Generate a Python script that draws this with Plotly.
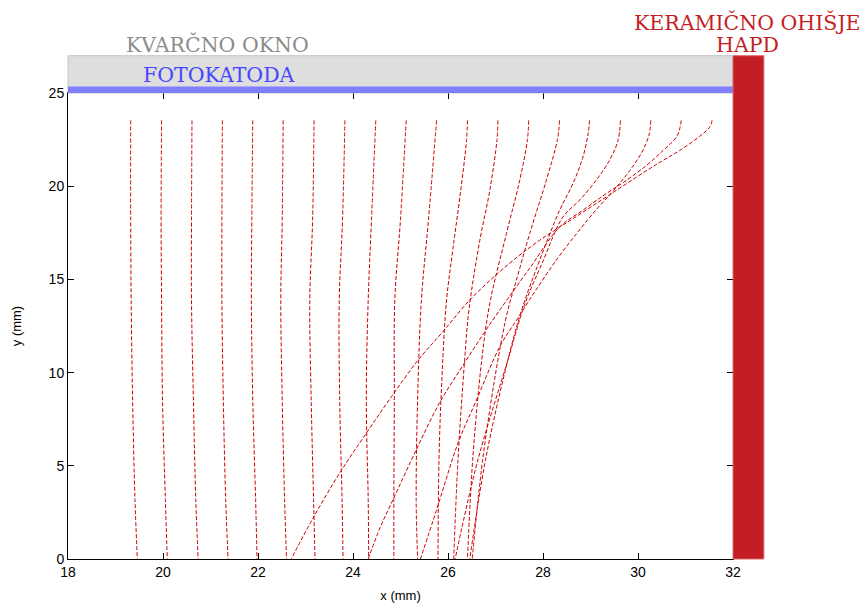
import plotly.graph_objects as go

# ---------------- data (mm) ----------------
# common y levels for the nearly vertical trajectories 1-11
y_straight = [23.53, 18.23, 13.89, 8.53, 3.18, 0.0]

x_e01 = [19.32, 19.32, 19.33, 19.36, 19.41, 19.46]
x_e02 = [19.97, 19.96, 19.97, 19.99, 20.05, 20.09]
x_e03 = [20.61, 20.60, 20.60, 20.64, 20.69, 20.74]
x_e04 = [21.25, 21.24, 21.24, 21.27, 21.32, 21.37]
x_e05 = [21.89, 21.87, 21.86, 21.89, 21.95, 21.98]
x_e06 = [22.53, 22.51, 22.48, 22.51, 22.56, 22.60]
x_e07 = [23.18, 23.15, 23.09, 23.12, 23.17, 23.20]
x_e08 = [23.83, 23.78, 23.71, 23.72, 23.77, 23.79]
x_e09 = [24.48, 24.39, 24.32, 24.28, 24.32, 24.33]
x_e10 = [25.12, 25.00, 24.88, 24.87, 24.86, 24.86]
x_e11 = [25.76, 25.59, 25.44, 25.36, 25.33, 25.36]

x_e12 = [26.41, 26.39, 26.25, 26.10, 25.97, 25.87, 25.81, 25.79]
y_e12 = [23.53, 22.46, 19.42, 16.57, 13.89, 9.60, 5.32, 0.0]

x_e13 = [27.05, 27.03, 26.88, 26.67, 26.44, 26.35, 26.21, 26.12]
y_e13 = [23.53, 22.46, 19.78, 17.10, 13.35, 10.67, 5.32, 0.0]

x_e14 = [27.70, 27.67, 27.51, 27.23, 26.88, 26.71, 26.52, 26.41]
y_e14 = [23.53, 22.46, 20.32, 17.46, 13.71, 10.67, 5.32, 0.0]

x_e15 = [28.35, 28.30, 28.07, 27.72, 27.44, 27.26, 27.05, 26.73, 26.51]
y_e15 = [23.53, 22.46, 20.32, 17.46, 14.96, 13.35, 10.67, 5.32, 0.0]

x_e16 = [28.98, 28.95, 28.84, 28.63, 28.35, 27.93, 27.55, 27.26, 26.79, 26.46]
y_e16 = [23.53, 22.83, 21.56, 20.14, 18.71, 16.03, 13.35, 10.67, 5.32, 0.0]

x_e17 = [29.63, 29.58, 29.40, 29.12, 28.77, 28.42, 27.99, 27.61, 27.26, 26.63, 26.15]
y_e17 = [23.53, 22.46, 21.39, 20.32, 19.25, 18.35, 15.92, 13.62, 10.67, 5.32, 0.0]

x_e18 = [30.27, 30.23, 30.08, 29.83, 29.49, 29.11, 28.73, 28.31, 27.89, 27.47,
         27.09, 26.60, 26.21, 25.76, 25.42]
y_e18 = [23.53, 22.73, 21.82, 20.85, 19.78, 18.71, 17.53, 16.14, 14.58, 12.92,
         11.39, 8.53, 6.21, 2.64, 0.0]

x_e19 = [30.91, 30.88, 30.81, 30.53, 30.18, 29.76, 29.33, 28.84, 28.35, 27.72,
         27.09, 26.77, 26.28, 25.82, 25.33, 24.84, 24.57, 24.32]
y_e19 = [23.53, 23.10, 22.64, 21.92, 21.12, 20.32, 19.60, 18.71, 17.81, 15.60,
         13.36, 12.17, 10.25, 8.37, 5.85, 3.17, 1.68, 0.0]

x_e20 = [31.56, 31.51, 31.30, 30.88, 30.46, 29.97, 29.33, 28.63, 27.93, 27.30,
         26.49, 25.89, 25.37, 24.81, 24.28, 23.72, 23.16, 22.70]
y_e20 = [23.53, 23.17, 22.68, 21.92, 21.28, 20.49, 19.42, 18.26, 17.10, 15.87,
         13.98, 12.19, 10.67, 8.71, 6.75, 4.61, 2.20, 0.0]

x_ticks = [18, 20, 22, 24, 26, 28, 30, 32]
y_ticks = [0, 5, 10, 15, 20, 25]

# geometry of the drawn detector parts (mm)
x_min, x_max = 18.0, 32.0
y_min, y_max = 0.0, 25.0
window_top = 27.0
cathode_top = 25.35
wall_right = 32.65

trajectories = [
    (x_e01, y_straight), (x_e02, y_straight), (x_e03, y_straight),
    (x_e04, y_straight), (x_e05, y_straight), (x_e06, y_straight),
    (x_e07, y_straight), (x_e08, y_straight), (x_e09, y_straight),
    (x_e10, y_straight), (x_e11, y_straight),
    (x_e12, y_e12), (x_e13, y_e13), (x_e14, y_e14), (x_e15, y_e15),
    (x_e16, y_e16), (x_e17, y_e17), (x_e18, y_e18), (x_e19, y_e19),
    (x_e20, y_e20),
]

fig = go.Figure()
for xs, ys in trajectories:
    fig.add_trace(go.Scatter(
        x=xs, y=ys, mode="lines",
        line=dict(color="#cc0000", width=1, dash="4px,2px", shape="spline", smoothing=1.0),
        showlegend=False, hoverinfo="skip", cliponaxis=False,
    ))


def xd(v):
    return (v - x_min) / (x_max - x_min)


def yd(v):
    return (v - y_min) / (y_max - y_min)


shapes = [
    # quartz window
    dict(type="rect", xref="x domain", yref="y domain",
         x0=0, x1=1, y0=1, y1=yd(window_top),
         fillcolor="#dedede", line=dict(color="#c4c4c4", width=1), layer="above"),
    # photocathode
    dict(type="rect", xref="x domain", yref="y domain",
         x0=0, x1=1, y0=1, y1=yd(cathode_top),
         fillcolor="#8080ff", line=dict(width=0), layer="above"),
    # ceramic housing
    dict(type="rect", xref="x domain", yref="y domain",
         x0=1, x1=xd(wall_right), y0=0, y1=yd(window_top),
         fillcolor="#c41e25", line=dict(color="#d86a6e", width=1), layer="above"),
]

serif = "DejaVu Serif, Liberation Serif, serif"


def label(text, x, y, color):
    return dict(text=text, x=xd(x), y=yd(y), xref="x domain", yref="y domain",
                showarrow=False, xanchor="center", yanchor="middle",
                font=dict(family=serif, size=20.5, color=color))


annotations = [
    label("KVARČNO OKNO", 21.15, 27.62, "#8c8c8c"),
    label("FOTOKATODA", 21.17, 25.98, "#4646ff"),
    label("KERAMIČNO OHIŠJE", 32.31, 28.8, "#c41e25"),
    label("HAPD", 32.31, 27.56, "#c41e25"),
]

sans = "Liberation Sans, Arial, sans-serif"
axis_common = dict(
    showgrid=False, zeroline=False, showline=True, linecolor="black", linewidth=1,
    ticks="inside", ticklen=6, tickwidth=1, tickcolor="black", mirror="ticks",
    tickfont=dict(family=sans, size=14, color="black"), automargin=False,
)

fig.update_layout(
    width=868, height=605,
    margin=dict(l=68, r=135, t=93, b=46),
    paper_bgcolor="white", plot_bgcolor="white",
    shapes=shapes, annotations=annotations,
    xaxis=dict(range=[x_min, x_max], tickvals=x_ticks,
               title=dict(text="x (mm)", standoff=12,
                          font=dict(family=sans, size=13, color="black")),
               **axis_common),
    yaxis=dict(range=[y_min, y_max], tickvals=y_ticks,
               title=dict(text="y (mm)", standoff=24,
                          font=dict(family=sans, size=13, color="black")),
               **axis_common),
)

fig.write_html("out.html")
